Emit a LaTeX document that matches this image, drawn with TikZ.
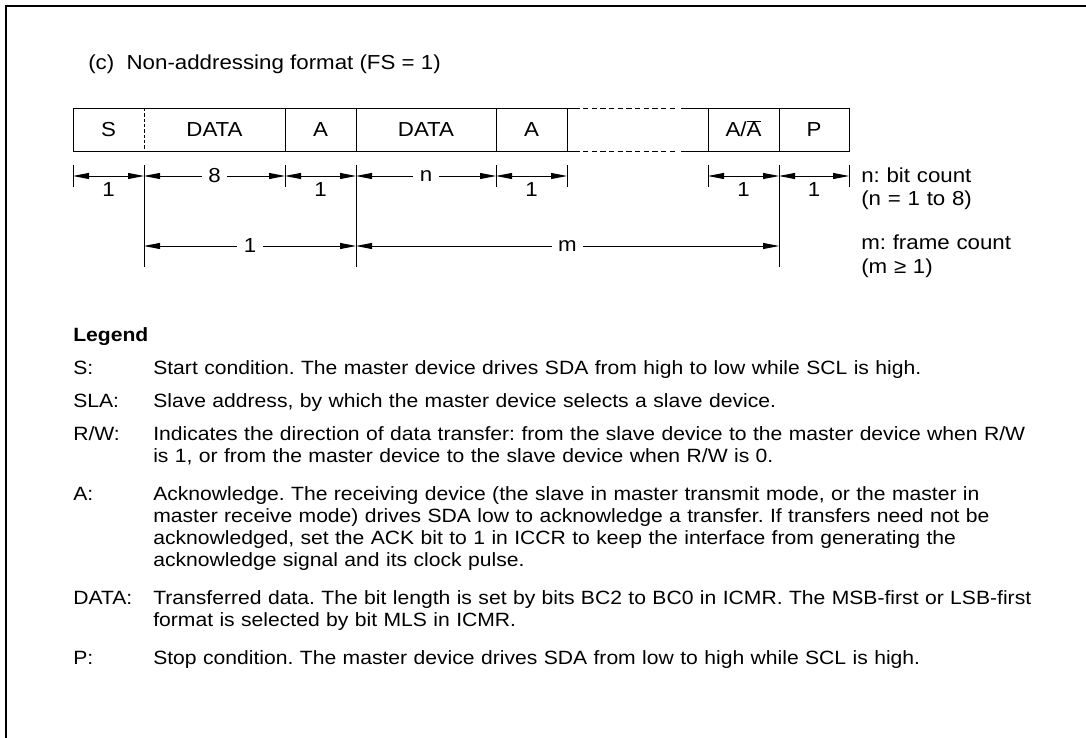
\documentclass[tikz,border=0pt]{standalone}
\usepackage{fontspec}
\setmainfont{Liberation Sans}[FakeStretch=1.1]
\usetikzlibrary{arrows.meta, positioning, calc}
\newcommand{\diagfont}{\fontsize{15.2}{17.25}\selectfont}
\newcommand{\legfont}{\fontsize{14.4}{16.5}\selectfont}
\frenchspacing

\begin{document}
\begin{tikzpicture}[
  x=0.75pt, y=-0.75pt,
  every node/.style={font=\diagfont, inner sep=0pt},
  boxline/.style={line width=0.6pt},
  celllbl/.style={anchor=base},
  dimline/.style={>={Triangle[length=12pt,width=4.5pt]}, <->, line width=0.6pt},
  dimtick/.style={line width=0.6pt},
  inl/.style={fill=white, inner xsep=5pt, inner ysep=1pt},
  sizelbl/.style={anchor=base, yshift=-15.75pt},
  note/.style={anchor=base west, text width=200pt, align=left},
  keylbl/.style={anchor=base west, font=\legfont},
  keytxt/.style={anchor=base west, font=\legfont, text width=760pt, align=left}
]
\useasboundingbox (0,0) rectangle (1086,738);

% open frame (top and left)
\draw[line width=1.5pt] (6,738) -- (6,6) -- (1086,6);

\node[anchor=base west] (title) at (88,69.6) {(c)\ \ Non-addressing format (FS = 1)};

% frame cells
\draw[boxline] (73,108) rectangle (567,151);
\draw[boxline, dash pattern=on 2.5pt off 1.5pt] (144,108) -- (144,151);
\foreach \x in {285,356,496}
  \draw[boxline] (\x,108) -- (\x,151);
\draw[boxline] (567,108) -- (580,108) (567,151) -- (580,151);
\draw[boxline, dash pattern=on 4pt off 2.5pt] (583,108) -- (678,108) (583,151) -- (678,151);
\draw[boxline] (681,108) -- (708,108) (681,151) -- (708,151);
\draw[boxline] (708,108) rectangle (849,151);
\draw[boxline] (779,108) -- (779,151);

\node[celllbl] (cS)  at (108.5,137) {S};
\node[celllbl] (cD1) at (214.5,137) {DATA};
\node[celllbl] (cA1) at (320.5,137) {A};
\node[celllbl] (cD2) at (426,137)   {DATA};
\node[celllbl] (cA2) at (531.5,137) {A};
\node[celllbl] (cAA) at (743.5,137) {A/$\overline{\mbox{A}}$};
\node[celllbl] (cP)  at (814,137)   {P};

% bit counts
\foreach \nm/\x in {t0/73,t1/144,t2/285,t3/356,t4/496,t5/567,t6/708,t7/779,t8/849}
  \coordinate (\nm) at (\x,176);
\foreach \nm/\x in {u1/144,u3/356,u7/779}
  \coordinate (\nm) at (\x,246);
\foreach \x in {73,285,496,567,708,849}
  \draw[dimtick] (\x,165) -- (\x,187);
\foreach \x in {144,356,779}
  \draw[dimtick] (\x,165) -- (\x,267);

\draw[dimline] (t0) -- node[sizelbl] (b1) {1} (t1);
\draw[dimline] (t1) -- node[inl] (b2) {8} (t2);
\draw[dimline] (t2) -- node[sizelbl] (b3) {1} (t3);
\draw[dimline] (t3) -- node[inl] (b4) {n} (t4);
\draw[dimline] (t4) -- node[sizelbl] (b5) {1} (t5);
\draw[dimline] (t6) -- node[sizelbl] (b6) {1} (t7);
\draw[dimline] (t7) -- node[sizelbl] (b7) {1} (t8);

% frame counts
\draw[dimline] (u1) -- node[inl] (f1) {1} (u3);
\draw[dimline] (u3) -- node[inl] (f2) {m} (u7);

\node[note] (nnote) at (861,183) {n: bit count\\(n = 1 to 8)};
\node[note] (mnote) at (861,250) {m: frame count\\(m ≥ 1)};

% legend
\node[keylbl, font=\legfont\bfseries] (leg) at (73,341) {Legend};
\node[keylbl] (kS)  at (73,374) {S:};
\node[keytxt] (tS)  at (153,374) {Start condition. The master device drives SDA from high to low while SCL is high.};
\node[keylbl] (kSLA) at (73,407) {SLA:};
\node[keytxt] (tSLA) at (153,407) {Slave address, by which the master device selects a slave device.};
\node[keylbl] (kRW) at (73,440) {R/W:};
\node[keytxt] (tRW) at (153,440) {Indicates the direction of data transfer: from the slave device to the master device when R/W\\
  is 1, or from the master device to the slave device when R/W is 0.};
\node[keylbl] (kA)  at (73,500) {A:};
\node[keytxt] (tA)  at (153,500) {Acknowledge. The receiving device (the slave in master transmit mode, or the master in\\
  master receive mode) drives SDA low to acknowledge a transfer. If transfers need not be\\
  acknowledged, set the ACK bit to 1 in ICCR to keep the interface from generating the\\
  acknowledge signal and its clock pulse.};
\node[keylbl] (kD)  at (73,604) {DATA:};
\node[keytxt] (tD)  at (153,604) {Transferred data. The bit length is set by bits BC2 to BC0 in ICMR. The MSB-first or LSB-first\\
  format is selected by bit MLS in ICMR.};
\node[keylbl] (kP)  at (73,664) {P:};
\node[keytxt] (tP)  at (153,664) {Stop condition. The master device drives SDA from low to high while SCL is high.};
\end{tikzpicture}
\end{document}
